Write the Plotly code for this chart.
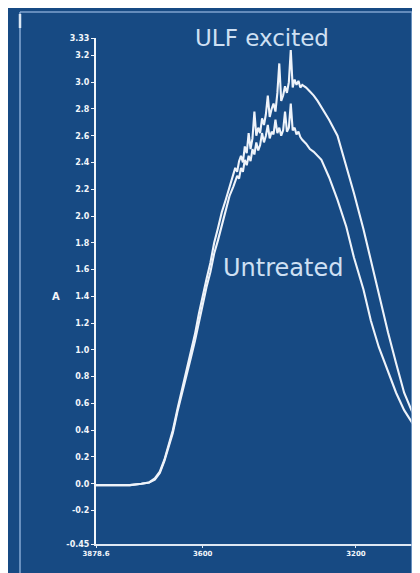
import plotly.graph_objects as go

# ---- data ----
wn_untreated = [3878.6, 3850, 3820, 3790, 3760, 3740, 3725, 3712, 3700, 3690, 3678, 3665,
                3650, 3640, 3630, 3620, 3610, 3600, 3590, 3580, 3570, 3560, 3550, 3540, 3530,
                3520, 3515, 3510, 3505, 3500, 3495, 3490, 3485, 3480, 3475, 3470, 3465, 3460,
                3455, 3450, 3445, 3440, 3435, 3430, 3425, 3420, 3415, 3410, 3405, 3400, 3395,
                3390, 3385, 3380, 3375, 3370, 3365, 3360, 3355, 3350, 3345, 3340,
                3330, 3320, 3310, 3300, 3290, 3270, 3248, 3225, 3205, 3180, 3161, 3140, 3116,
                3095, 3074, 3055, 3043]
a_untreated = [-0.01, -0.01, -0.01, -0.01, 0.00, 0.01, 0.03, 0.08, 0.17, 0.27, 0.38, 0.55,
               0.72, 0.82, 0.95, 1.07, 1.21, 1.35, 1.47, 1.58, 1.72, 1.82, 1.93, 2.05, 2.15,
               2.22, 2.27, 2.30, 2.28, 2.36, 2.33, 2.42, 2.38, 2.45, 2.41, 2.50, 2.46, 2.55,
               2.49, 2.53, 2.62, 2.55, 2.60, 2.68, 2.58, 2.63, 2.61, 2.72, 2.62, 2.66, 2.60,
               2.64, 2.78, 2.63, 2.66, 2.84, 2.64, 2.66, 2.61, 2.63, 2.59, 2.57,
               2.54, 2.50, 2.48, 2.45, 2.42, 2.29, 2.12, 1.92, 1.69, 1.45, 1.22, 1.02, 0.83,
               0.68, 0.55, 0.46, 0.41]

wn_ulf = [3878.6, 3850, 3820, 3790, 3760, 3740, 3725, 3712, 3700, 3690, 3678, 3665,
          3650, 3640, 3630, 3620, 3610, 3600, 3590, 3580, 3570, 3560, 3550, 3540, 3530,
          3525, 3520, 3515, 3510, 3505, 3500, 3495, 3490, 3485, 3480, 3475, 3470, 3465,
          3460, 3455, 3450, 3445, 3440, 3435, 3430, 3425, 3420, 3415, 3410, 3405, 3400,
          3395, 3390, 3385, 3380, 3375, 3370, 3365, 3360, 3355, 3350, 3345, 3340,
          3330, 3320, 3310, 3300, 3284, 3270, 3248, 3230, 3205, 3180, 3161, 3140, 3116,
          3095, 3074, 3055, 3043]
a_ulf = [-0.01, -0.01, -0.01, -0.01, 0.00, 0.01, 0.04, 0.09, 0.18, 0.28, 0.40, 0.57,
         0.75, 0.86, 0.99, 1.12, 1.27, 1.41, 1.53, 1.65, 1.80, 1.91, 2.03, 2.12, 2.22,
         2.28, 2.31, 2.36, 2.33, 2.41, 2.45, 2.40, 2.52, 2.47, 2.62, 2.50, 2.58, 2.78,
         2.60, 2.66, 2.62, 2.73, 2.68, 2.76, 2.90, 2.74, 2.80, 2.84, 2.78, 2.92, 3.14,
         2.86, 2.90, 2.97, 2.92, 3.00, 3.24, 2.96, 3.02, 2.98, 3.01, 2.96, 2.98,
         2.96, 2.93, 2.90, 2.86, 2.79, 2.72, 2.60, 2.42, 2.17, 1.90, 1.67, 1.40, 1.13,
         0.90, 0.68, 0.55, 0.48]

y_tickvals = [-0.45, -0.2, 0.0, 0.2, 0.4, 0.6, 0.8, 1.0, 1.2, 1.4, 1.6, 1.8, 2.0,
              2.2, 2.4, 2.6, 2.8, 3.0, 3.2, 3.33]
y_ticktext = ["-0.45", "-0.2", "0.0", "0.2", "0.4", "0.6", "0.8", "1.0", "1.2", "1.4",
              "1.6", "1.8", "2.0", "2.2", "2.4", "2.6", "2.8", "3.0", "3.2", "3.33"]
x_tickvals = [3878.6, 3600, 3200]
x_ticktext = ["3878.6", "3600", "3200"]

BG = "#174a83"
LINE = "#eef3fa"
FRAME = "#7fa3cf"
LABEL = "#cfe0f3"

# page body has an 8px margin: size figure so the screen layout matches
OFF = 8
W, H = 420 - OFF, 573 - OFF
L, R, T, B = 96 - OFF, 4, 38 - OFF, 29
pw, ph = W - L - R, H - T - B


def px(x):  # screen pixel -> paper x
    return (x - OFF - L) / pw


def py(y):  # screen pixel -> paper y
    return (H - B - (y - OFF)) / ph


fig = go.Figure()
fig.add_trace(go.Scatter(x=wn_untreated, y=a_untreated, mode="lines",
                         line=dict(color=LINE, width=2.1), name="Untreated"))
fig.add_trace(go.Scatter(x=wn_ulf, y=a_ulf, mode="lines",
                         line=dict(color=LINE, width=2.1), name="ULF excited"))

shapes = [
    dict(type="line", xref="paper", yref="paper", x0=px(20), x1=px(20), y0=py(12), y1=py(580),
         line=dict(color=FRAME, width=1.6)),
    dict(type="line", xref="paper", yref="paper", x0=px(20), x1=px(412), y0=py(12), y1=py(12),
         line=dict(color=FRAME, width=1.6)),
    dict(type="line", xref="paper", yref="paper", x0=px(412), x1=px(412), y0=py(12), y1=py(580),
         line=dict(color=FRAME, width=1.6)),
    dict(type="line", xref="paper", yref="paper", x0=px(20), x1=px(20), y0=py(14), y1=py(28),
         line=dict(color="#dce8f5", width=2.5)),
]

fig.update_layout(
    width=W, height=H,
    margin=dict(l=L, r=R, t=T, b=B, pad=0),
    paper_bgcolor=BG, plot_bgcolor=BG,
    showlegend=False,
    shapes=shapes,
    font=dict(family="DejaVu Sans", color="#f2f6fb"),
    annotations=[
        dict(x=3445, y=3.33, xref="x", yref="y", text="ULF excited", showarrow=False,
             font=dict(family="DejaVu Sans", size=23, color=LABEL), yanchor="middle"),
        dict(x=3390, y=1.61, xref="x", yref="y", text="Untreated", showarrow=False,
             font=dict(family="DejaVu Sans", size=24, color=LABEL), yanchor="middle"),
        dict(x=px(50), y=1.40, xref="paper", yref="y", text="A", showarrow=False,
             font=dict(family="DejaVu Sans", size=10, color="#f2f6fb", weight="bold")),
    ],
)

fig.update_xaxes(range=[3878.6, 3043], tickvals=x_tickvals, ticktext=x_ticktext,
                 showgrid=False, zeroline=False, showline=True, linecolor="#dfe8f3",
                 linewidth=2, ticks="outside", ticklen=2, tickcolor="#dfe8f3",
                 tickfont=dict(size=7, weight="bold", color="#f2f6fb"))
fig.update_yaxes(range=[-0.45, 3.33], tickvals=y_tickvals, ticktext=y_ticktext,
                 showgrid=False, zeroline=False, showline=True, linecolor="#f2f6fb",
                 linewidth=2, ticks="outside", ticklen=3, tickcolor="#f2f6fb",
                 tickfont=dict(size=8, weight="bold", color="#f2f6fb"))

fig.write_html("out.html")
